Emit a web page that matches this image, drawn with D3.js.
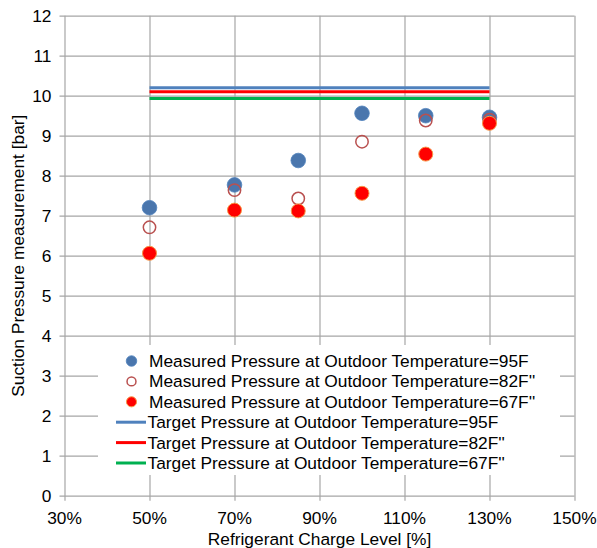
<!DOCTYPE html>
<html>
<head>
<meta charset="utf-8">
<script src="https://cdn.jsdelivr.net/npm/d3@7"></script>
<style>
  body { margin: 0; background: #fff; }
  svg text { font-family: "Liberation Sans", Arial, sans-serif; fill: #000; font-size: 17.33px; }
</style>
</head>
<body>
<svg id="chart" width="597" height="548"></svg>
<script>
// Data.
var chargeLevels = [50, 70, 85, 100, 115, 130];
var measured95 = [7.2, 7.77, 8.38, 9.56, 9.5, 9.46];
var measured82 = [6.71, 7.64, 7.43, 8.85, 9.38, 9.4];
var measured67 = [6.06, 7.14, 7.12, 7.56, 8.54, 9.31];
var targetRange = [50, 130];
var target95 = 10.2;
var target82 = 10.1;
var target67 = 9.93;
var xTicks = [30, 50, 70, 90, 110, 130, 150];
var yTicks = [0, 1, 2, 3, 4, 5, 6, 7, 8, 9, 10, 11, 12];
var legendLabels = [
  "Measured Pressure at Outdoor Temperature=95F",
  "Measured Pressure at Outdoor Temperature=82F''",
  "Measured Pressure at Outdoor Temperature=67F''",
  "Target Pressure at Outdoor Temperature=95F",
  "Target Pressure at Outdoor Temperature=82F''",
  "Target Pressure at Outdoor Temperature=67F''"
];

var margin = { top: 15.7, right: 22.5, bottom: 52.3, left: 64.5 };
var width = 597 - margin.left - margin.right;
var height = 548 - margin.top - margin.bottom;

var svg = d3.select("#chart");
var g = svg.append("g")
  .attr("transform", "translate(" + margin.left + "," + margin.top + ")");

var xScale = d3.scaleLinear().domain([30, 150]).range([0, width]);
var yScale = d3.scaleLinear().domain([0, 12]).range([height, 0]);

var gridColor = "#a6a6a6";

// Gridlines (they poke out of the axes as tick marks).
g.selectAll(".hgrid")
  .data(yTicks)
  .enter()
  .append("line")
  .attr("x1", -5)
  .attr("x2", width)
  .attr("y1", d => Math.round(yScale(d)) + 0.5)
  .attr("y2", d => Math.round(yScale(d)) + 0.5)
  .attr("stroke", gridColor)
  .attr("stroke-width", 1.2);

g.selectAll(".vgrid")
  .data(xTicks)
  .enter()
  .append("line")
  .attr("y1", 0)
  .attr("y2", height + 5)
  .attr("x1", d => Math.round(xScale(d)) + 0.5)
  .attr("x2", d => Math.round(xScale(d)) + 0.5)
  .attr("stroke", gridColor)
  .attr("stroke-width", 1.2);

// Tick labels.
g.selectAll(".ylab")
  .data(yTicks)
  .enter()
  .append("text")
  .attr("x", -13)
  .attr("y", d => yScale(d))
  .attr("dy", "0.35em")
  .attr("text-anchor", "end")
  .text(d => d);

g.selectAll(".xlab")
  .data(xTicks)
  .enter()
  .append("text")
  .attr("x", d => xScale(d))
  .attr("y", height + 28.3)
  .attr("text-anchor", "middle")
  .text(d => d + "%");

// Axis titles.
svg.append("text")
  .attr("x", margin.left + width / 2)
  .attr("y", 545)
  .attr("text-anchor", "middle")
  .text("Refrigerant Charge Level [%]");

svg.append("text")
  .attr("transform", "translate(23.5," + (margin.top + height / 2) + ") rotate(-90)")
  .attr("text-anchor", "middle")
  .text("Suction Pressure measurement [bar]");

// Target lines.
var targets = [
  { value: target95, color: "#4f81bd" },
  { value: target82, color: "#ff0000" },
  { value: target67, color: "#00b050" }
];
g.selectAll(".target")
  .data(targets)
  .enter()
  .append("line")
  .attr("x1", xScale(targetRange[0]))
  .attr("x2", xScale(targetRange[1]))
  .attr("y1", d => yScale(d.value))
  .attr("y2", d => yScale(d.value))
  .attr("stroke", d => d.color)
  .attr("stroke-width", 3);

// Measured points.
function drawPoints(values, style) {
  g.selectAll(null)
    .data(values)
    .enter()
    .append("circle")
    .attr("cx", (d, i) => xScale(chargeLevels[i]))
    .attr("cy", d => yScale(d))
    .attr("r", style.r)
    .attr("fill", style.fill)
    .attr("stroke", style.stroke)
    .attr("stroke-width", style.sw);
}
var styles = [
  { r: 7.3, fill: "#4a76ad", stroke: "#4f81bd", sw: 0.8 },
  { r: 6.2, fill: "none", stroke: "#b9504f", sw: 1.5 },
  { r: 7, fill: "#ff0000", stroke: "#f79646", sw: 1 }
];
drawPoints(measured95, styles[0]);
drawPoints(measured82, styles[1]);
drawPoints(measured67, styles[2]);

// Legend.
var legend = svg.append("g").attr("transform", "translate(98,345)");
legend.append("rect")
  .attr("width", 462)
  .attr("height", 130)
  .attr("fill", "#fff");

var rowY = d3.range(legendLabels.length).map(i => 16 + i * 20.4);
legendLabels.forEach(function (label, i) {
  var y = rowY[i];
  if (i < 3) {
    var s = styles[i];
    legend.append("circle")
      .attr("cx", 33.5)
      .attr("cy", y)
      .attr("r", s.r * 0.72)
      .attr("fill", s.fill)
      .attr("stroke", s.stroke)
      .attr("stroke-width", s.sw);
  } else {
    legend.append("line")
      .attr("x1", 18)
      .attr("x2", 48)
      .attr("y1", y)
      .attr("y2", y)
      .attr("stroke", targets[i - 3].color)
      .attr("stroke-width", 3);
  }
  legend.append("text")
    .attr("x", i < 3 ? 51 : 49.5)
    .attr("y", y)
    .attr("dy", "0.35em")
    .text(label);
});
</script>
</body>
</html>
